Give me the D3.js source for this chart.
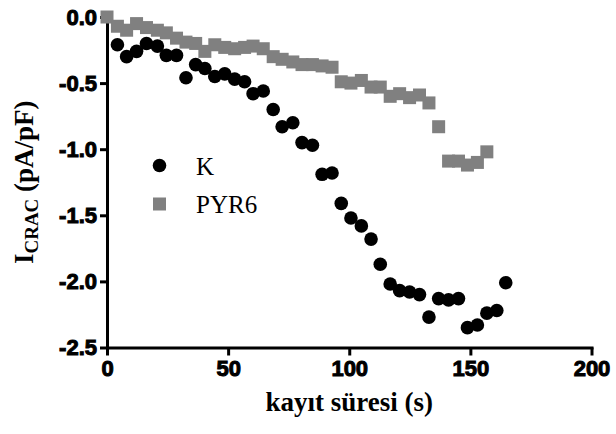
<!DOCTYPE html>
<html>
<head>
<meta charset="utf-8">
<script src="https://cdn.jsdelivr.net/npm/d3@7"></script>
<style>
body { margin: 0; background: #fff; }
.tick text { font-family: "Liberation Sans", Arial, sans-serif; font-weight: 700; font-size: 22px; }
</style>
</head>
<body>
<div id="chart"></div>
<script>
// K series: time (s) and I_CRAC (pA/pF)
var kTime = [4.3, 8.1, 12.2, 16.3, 20.8, 24.5, 28.7, 32.6, 36.6, 40.4,
             44.5, 48.6, 52.7, 56.8, 60.3, 64.5, 68.6, 72.3, 76.7, 80.5,
             84.8, 88.8, 92.9, 96.7, 100.7, 105.0, 109.0, 112.8, 116.9, 120.8,
             124.9, 129.0, 132.9, 136.9, 141.0, 145.1, 148.8, 152.9, 156.8, 160.9,
             164.6];
var kVal = [-0.21, -0.30, -0.26, -0.20, -0.22, -0.29, -0.29, -0.46, -0.36, -0.39,
            -0.45, -0.43, -0.47, -0.49, -0.58, -0.56, -0.70, -0.83, -0.80, -0.95,
            -0.97, -1.19, -1.18, -1.41, -1.52, -1.58, -1.68, -1.87, -2.02, -2.07,
            -2.08, -2.10, -2.27, -2.13, -2.14, -2.13, -2.35, -2.33, -2.24, -2.22,
            -2.01];

// PYR6 series
var pTime = [0, 4.3, 8.1, 12.2, 16.3, 20.8, 24.5, 28.7, 32.6, 36.6,
             40.4, 44.5, 48.6, 52.7, 56.8, 60.3, 64.5, 68.6, 72.3, 76.7,
             80.5, 84.8, 88.8, 92.9, 96.7, 100.7, 105.0, 109.0, 112.8, 116.9,
             120.8, 124.9, 129.0, 132.9, 136.9, 141.0, 145.1, 148.8, 152.9, 156.8];
var pVal = [0, -0.07, -0.10, -0.05, -0.08, -0.10, -0.12, -0.16, -0.19, -0.20,
            -0.26, -0.21, -0.23, -0.24, -0.23, -0.22, -0.24, -0.30, -0.32, -0.34,
            -0.36, -0.36, -0.37, -0.38, -0.49, -0.50, -0.48, -0.53, -0.53, -0.60,
            -0.58, -0.61, -0.59, -0.65, -0.83, -1.09, -1.09, -1.12, -1.10, -1.02];

var xTicks = [0, 50, 100, 150, 200];
var yTicks = [0, -0.5, -1.0, -1.5, -2.0, -2.5];
var seriesNames = ["K", "PYR6"];

function init() {

	var w = 616;
	var h = 434;

	var left = 107, right = 591.5, top = 17, bottom = 347.5;

	var xScale = d3.scaleLinear()
								 .domain([0, 200])
								 .range([left, right]);

	var yScale = d3.scaleLinear()
								 .domain([-2.5, 0])
								 .range([bottom, top]);

	var svg = d3.select("#chart")
							.append("svg")
							.attr("width", w)
							.attr("height", h);

	// axes
	var yAxis = d3.axisLeft(yScale)
								.tickValues(yTicks)
								.tickSize(7)
								.tickSizeOuter(0)
								.tickPadding(3)
								.tickFormat(function(d){ return d.toFixed(1); });

	var xAxis = d3.axisBottom(xScale)
								.tickValues(xTicks)
								.tickSize(8)
								.tickSizeOuter(0)
								.tickPadding(5)
								.tickFormat(function(d){ return d; });

	var gy = svg.append("g")
							.attr("transform", "translate(" + left + ",0)")
							.call(yAxis);

	var gx = svg.append("g")
							.attr("transform", "translate(0," + bottom + ")")
							.call(xAxis);

	[gx, gy].forEach(function(g){
		g.select(".domain")
				.attr("stroke", "#000")
				.attr("stroke-width", 3)
				.attr("stroke-linecap", "square");
		g.selectAll(".tick line")
				.attr("stroke", "#000")
				.attr("stroke-width", 3);
		// a thin outline makes the bold digits as heavy as the original
		g.selectAll(".tick text")
				.attr("fill", "#000")
				.style("stroke", "#000")
				.style("stroke-width", "1px");
	});

	// K circles
	svg.append("g")
			.selectAll("circle")
			.data(kTime)
			.enter()
			.append("circle")
			.attr("cx", function(d){ return xScale(d); })
			.attr("cy", function(d,i){ return yScale(kVal[i]); })
			.attr("r", 6.8)
			.attr("fill", "#000");

	// PYR6 squares
	var sq = 13;
	svg.append("g")
			.selectAll("rect")
			.data(pTime)
			.enter()
			.append("rect")
			.attr("x", function(d){ return xScale(d) - sq/2; })
			.attr("y", function(d,i){ return yScale(pVal[i]) - sq/2; })
			.attr("width", sq)
			.attr("height", sq)
			.attr("fill", "#808080");

	// legend
	var leg = svg.append("g");
	leg.append("circle")
			.attr("cx", 159.5)
			.attr("cy", 165.5)
			.attr("r", 6.8)
			.attr("fill", "#000");
	leg.append("rect")
			.attr("x", 159.5 - sq/2)
			.attr("y", 204 - sq/2)
			.attr("width", sq)
			.attr("height", sq)
			.attr("fill", "#808080");
	leg.selectAll("text")
			.data(seriesNames)
			.enter()
			.append("text")
			.attr("x", 196)
			.attr("y", function(d,i){ return i == 0 ? 175 : 213; })
			.style("font-family", "'Liberation Serif', 'Times New Roman', serif")
			.style("font-size", "25px")
			.text(function(d){ return d; });

	// axis titles
	svg.append("text")
			.attr("x", (left + right)/2)
			.attr("y", 411)
			.attr("text-anchor", "middle")
			.style("font-family", "'Liberation Serif', 'Times New Roman', serif")
			.style("font-weight", "bold")
			.style("font-size", "27px")
			.text("kayıt süresi (s)");

	var yt = svg.append("text")
			.attr("transform", "translate(33," + ((top + bottom)/2) + ") rotate(-90)")
			.attr("text-anchor", "middle")
			.style("font-family", "'Liberation Serif', 'Times New Roman', serif")
			.style("font-weight", "bold")
			.style("font-size", "27px");
	yt.append("tspan").text("I");
	yt.append("tspan")
			.attr("dy", 5)
			.style("font-size", "19px")
			.text("CRAC");
	yt.append("tspan")
			.attr("dy", -5)
			.text(" (pA/pF)");

}

window.onload = init;
</script>
</body>
</html>
